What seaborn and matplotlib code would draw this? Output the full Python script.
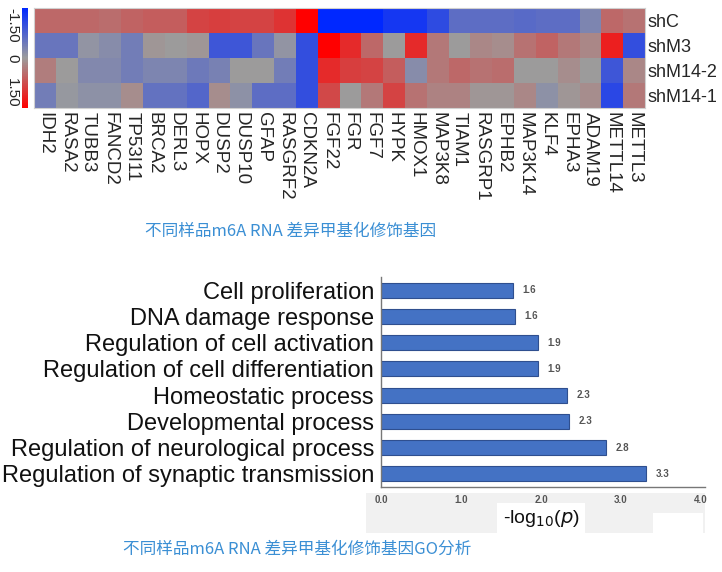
import numpy as np
import pandas as pd
import matplotlib
matplotlib.use("Agg")
import matplotlib.pyplot as plt
import seaborn as sns
from matplotlib.colors import LinearSegmentedColormap
from matplotlib.patches import Rectangle

# ---------------- data ----------------
genes = ["IDH2", "RASA2", "TUBB3", "FANCD2", "TP53I11", "BRCA2", "DERL3", "HOPX",
         "DUSP2", "DUSP10", "GFAP", "RASGRF2", "CDKN2A", "FGF22", "FGR", "FGF7",
         "HYPK", "HMOX1", "MAP3K8", "TIAM1", "RASGRP1", "EPHB2", "MAP3K14", "KLF4",
         "EPHA3", "ADAM19", "METTL14", "METTL3"]
samples = ["shC", "shM3", "shM14-2", "shM14-1"]
shC = [0.5, 0.5, 0.5, 0.45, 0.55, 0.6, 0.6, 0.85, 0.9, 0.85, 0.85, 1.0, 1.6, -1.6,
       -1.6, -1.6, -1.3, -1.3, -1.05, -0.6, -0.6, -0.6, -0.65, -0.6, -0.6, -0.3, 0.5, 0.4]
shM3 = [-0.5, -0.5, -0.1, -0.2, -0.4, 0.05, 0.0, 0.05, -0.9, -0.9, -0.5, -0.1, -1.0, 1.6,
        1.1, 0.5, 0.0, 1.1, 0.35, 0.0, 0.2, 0.15, 0.4, 0.55, 0.35, 0.2, 1.2, -1.0]
shM14_2 = [0.3, 0.0, -0.25, -0.25, -0.4, -0.3, -0.3, -0.45, -0.35, 0.0, 0.0, -0.4, -1.0, 1.1,
           0.9, 0.85, 0.6, -0.2, 0.35, 0.5, 0.4, 0.45, 0.0, 0.0, 0.15, 0.0, -0.9, 0.2]
shM14_1 = [-0.4, -0.05, -0.15, -0.15, 0.15, -0.55, -0.55, -0.7, 0.15, -0.15, -0.6, -0.6, -1.0, 0.8,
           0.0, 0.35, 0.85, 0.4, 0.25, 0.25, 0.05, 0.05, 0.2, -0.15, 0.05, 0.15, -1.1, 0.35]
cbar_ticks = [-1.5, 0, 1.5]
cbar_ticklabels = ["-1.50", "0", "1.50"]

go_terms = ["Cell proliferation", "DNA damage response", "Regulation of cell activation",
            "Regulation of cell differentiation", "Homeostatic process",
            "Developmental process", "Regulation of neurological process",
            "Regulation of synaptic transmission"]
go_values = [1.65, 1.67, 1.96, 1.96, 2.32, 2.35, 2.81, 3.31]
go_labels = ["1.6", "1.6", "1.9", "1.9", "2.3", "2.3", "2.8", "3.3"]
x_ticks = [0, 1, 2, 3, 4]
x_ticklabels = ["0.0", "1.0", "2.0", "3.0", "4.0"]

caption1 = "不同样品m6A RNA 差异甲基化修饰基因"
caption2 = "不同样品m6A RNA 差异甲基化修饰基因GO分析"

# ---------------- style ----------------
sns.set_theme(style="white")
plt.rcParams["font.family"] = ["Liberation Sans", "Noto Sans CJK SC", "DejaVu Sans"]

W, H = 722, 572
fig = plt.figure(figsize=(W / 100, H / 100), dpi=100)
fig.patch.set_facecolor("white")


def box(x0, y0, x1, y1):
    return [x0 / W, 1 - y1 / H, (x1 - x0) / W, (y1 - y0) / H]


# ---------------- heatmap ----------------
df = pd.DataFrame([shC, shM3, shM14_2, shM14_1], index=samples, columns=genes)
cmap = LinearSegmentedColormap.from_list("bgr", ["#0028ff", "#9c9c9c", "#ff0000"])

ax_h = fig.add_axes(box(34, 8, 645, 108))
cax = fig.add_axes(box(22, 8, 28, 108))
sns.heatmap(df, ax=ax_h, cmap=cmap, vmin=-1.5, vmax=1.5, cbar_ax=cax,
            cbar_kws={"ticks": cbar_ticks}, linewidths=0)
for s in ax_h.spines.values():
    s.set_visible(True)
    s.set_color("#d0d0d0")
    s.set_linewidth(0.8)

ax_h.yaxis.tick_right()
ax_h.set_yticklabels(samples, rotation=0, fontsize=13, ha="left")
ax_h.set_xticklabels(genes, rotation=270, fontsize=13.5, ha="center", va="top")
ax_h.tick_params(axis="both", length=0)
ax_h.tick_params(axis="x", pad=3)
ax_h.tick_params(axis="y", pad=2)
ax_h.set_xlabel("")
ax_h.set_ylabel("")

cax.invert_yaxis()
cax.yaxis.set_ticks_position("left")
cax.set_yticks(cbar_ticks)
cax.set_yticklabels(cbar_ticklabels, rotation=270, fontsize=11)
cax.tick_params(axis="y", length=0, pad=2)
labs = cax.get_yticklabels()
labs[0].set_va("top")
labs[1].set_va("center")
labs[2].set_va("bottom")
for s in cax.spines.values():
    s.set_visible(False)

fig.text(291 / W, 1 - 231 / H, caption1, ha="center", va="center", fontsize=12,
         color="#3b8fd4", family=["Noto Sans CJK SC", "DejaVu Sans"])

# ---------------- bar chart ----------------
fig.patches.append(Rectangle((366 / W, 1 - 533 / H), (705 - 366) / W, (533 - 493) / H,
                             transform=fig.transFigure, facecolor="#f1f1f1",
                             edgecolor="none", zorder=-2))
fig.patches.append(Rectangle((653 / W, 1 - 533 / H), (703 - 653) / W, (533 - 513) / H,
                             transform=fig.transFigure, facecolor="white",
                             edgecolor="none", zorder=-1))

ax_b = fig.add_axes(box(381, 277, 701, 487))
ax_b.patch.set_alpha(0)
bar_df = pd.DataFrame({"term": go_terms, "value": go_values})
sns.barplot(data=bar_df, x="value", y="term", orient="h", ax=ax_b,
            color="#4472c4", edgecolor="#2f4f8f", linewidth=0.8, width=0.58,
            saturation=1)
ax_b.bar_label(ax_b.containers[0], labels=go_labels, padding=7, fontsize=7,
               color="#555555", fontweight="bold")
ax_b.set_xlim(0, 4)
ax_b.set_xticks(x_ticks)
ax_b.set_xticklabels(x_ticklabels, fontsize=7, color="#555555", fontweight="bold")
ax_b.set_yticks(range(len(go_terms)))
ax_b.set_yticklabels(go_terms, fontsize=17, color="#111111")
ax_b.tick_params(axis="y", length=0, pad=5)
ax_b.tick_params(axis="x", length=0, pad=6)
ax_b.set_ylabel("")
ax_b.set_xlabel(r"-log$_{10}$($p$)", fontsize=14, color="#111111", labelpad=2,
                bbox=dict(boxstyle="square,pad=0.27", facecolor="white", edgecolor="none"))
for side in ["top", "right"]:
    ax_b.spines[side].set_visible(False)
ax_b.spines["left"].set_color("#777777")
ax_b.spines["bottom"].set_color("#777777")
ax_b.spines["left"].set_linewidth(1)
ax_b.spines["bottom"].set_linewidth(1)
ax_b.spines["bottom"].set_bounds(0, 4.05)

fig.text(297 / W, 1 - 549 / H, caption2, ha="center", va="center", fontsize=12,
         color="#3b8fd4", family=["Noto Sans CJK SC", "DejaVu Sans"])

fig.savefig("out.png", dpi=100)
